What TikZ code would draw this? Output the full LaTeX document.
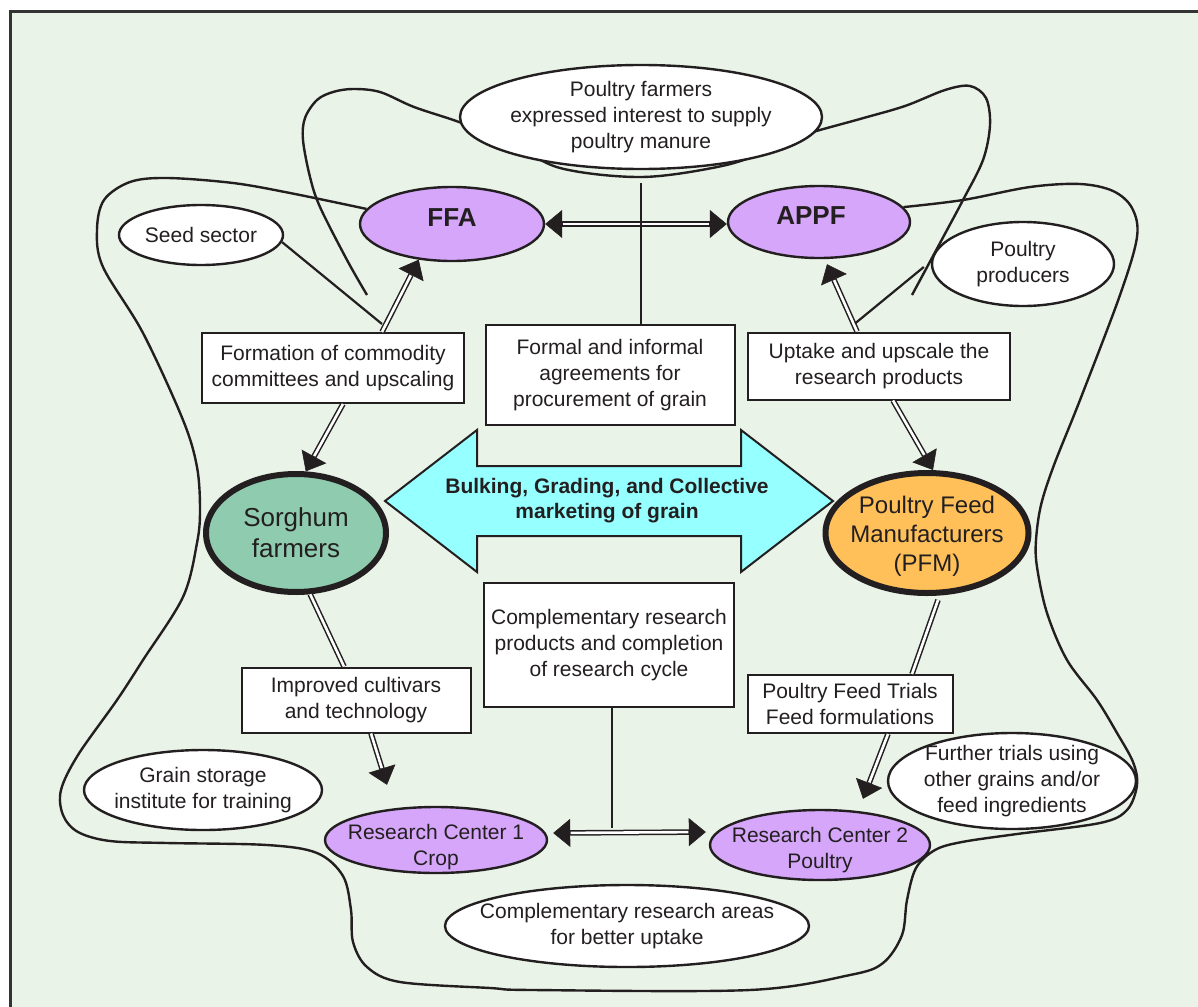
\documentclass[tikz,border=0pt]{standalone}
\usepackage{fontspec}
\setmainfont{Liberation Sans}
\usetikzlibrary{shapes.geometric,arrows.meta,calc}

\definecolor{bgreen}{RGB}{233,243,231}
\definecolor{lav}{RGB}{213,166,250}
\definecolor{sorg}{RGB}{143,203,174}
\definecolor{pfmorange}{RGB}{255,192,90}
\definecolor{aqua}{RGB}{150,255,255}
\definecolor{ink}{RGB}{35,31,32}
\definecolor{framegray}{RGB}{51,51,51}

\pgfdeclarelayer{back}
\pgfdeclarelayer{loops}
\pgfsetlayers{back,loops,main}

\begin{document}
\begin{tikzpicture}[x=1pt,y=-1pt,
  every node/.style={text=ink},
  txt/.style={font=\fontsize{21}{26}\selectfont, align=center, inner sep=0pt},
  boldtxt/.style={font=\fontsize{21}{25}\selectfont\bfseries, align=center, inner sep=0pt},
  oval/.style={ellipse, draw=ink, line width=2.4pt, fill=white, inner sep=0pt},
  purple oval/.style={oval, fill=lav},
  thick oval/.style={ellipse, draw=ink, line width=6pt, inner sep=0pt},
  box/.style={rectangle, draw=ink, line width=2pt, fill=white, inner sep=0pt, txt},
  dbl/.style={draw=ink, line width=5.6pt, postaction={draw=white, line width=2.6pt}},
  dblto/.style={draw=ink, line width=5.6pt, -{Triangle[length=17pt,width=28pt,line width=0.6pt]},
    postaction={draw=white, line width=2.6pt, -, shorten >=17.5pt}},
  dblboth/.style={draw=ink, line width=5.6pt,
    {Triangle[length=17pt,width=28pt,line width=0.6pt]}-{Triangle[length=17pt,width=28pt,line width=0.6pt]},
    postaction={draw=white, line width=2.6pt, -, shorten >=17.5pt, shorten <=17.5pt}},
  thin link/.style={draw=ink, line width=2.2pt},
  lasso/.style={draw=ink, line width=2.4pt, line join=round}
]
\useasboundingbox (0,0) rectangle (1198,1006);

% page and frame
\begin{pgfonlayer}{back}
  \fill[white] (0,0) rectangle (1198,1006);
  \fill[bgreen] (10,12) rectangle (1220,1030);
  \draw[framegray, line width=3pt] (1220,12) -- (10,12) -- (10,1030);
\end{pgfonlayer}

% actors and institutions
\node[oval, minimum width=362pt, minimum height=104pt,
  label={[txt]center:{Poultry farmers\\expressed interest to supply\\poultry manure}}] (pf) at (641,117) {};
\node[purple oval, minimum width=184pt, minimum height=74pt,
  label={[font=\fontsize{26}{30}\selectfont\bfseries, yshift=6pt]center:FFA}] (ffa) at (452,224) {};
\node[purple oval, minimum width=182pt, minimum height=72pt,
  label={[font=\fontsize{26}{30}\selectfont\bfseries, yshift=6pt, xshift=-8pt]center:APPF}] (appf) at (819,222) {};
\node[oval, minimum width=164pt, minimum height=60pt,
  label={[txt]center:Seed sector}] (seed) at (201,235) {};
\node[oval, minimum width=182pt, minimum height=84pt,
  label={[txt]center:{Poultry\\producers}}] (prod) at (1023,264) {};

\node[box, minimum width=262pt, minimum height=70pt] (form) at (333,368)
  {Formation of commodity\\committees and upscaling};
\node[box, minimum width=249pt, minimum height=100pt] (formal) at (610,375)
  {Formal and informal\\agreements for\\procurement of grain};
\node[box, minimum width=262pt, minimum height=67pt] (uptake) at (879,366)
  {Uptake and upscale the\\research products};

\node[thick oval, fill=sorg, minimum width=180pt, minimum height=118pt,
  label={[font=\fontsize{26}{31}\selectfont, align=center]center:{Sorghum\\farmers}}] (sorg) at (296,533) {};
\node[thick oval, fill=pfmorange, minimum width=203pt, minimum height=120pt,
  label={[font=\fontsize{24}{29}\selectfont, align=center, yshift=-3pt]center:{Poultry Feed\\Manufacturers\\(PFM)}}] (pfm) at (927,533) {};

% central double arrow
\filldraw[fill=aqua, draw=ink, line width=2pt, line join=miter]
  (385,501) -- (477,430) -- (477,466) -- (741,466) -- (741,430) -- (833,501)
  -- (741,572) -- (741,536) -- (477,536) -- (477,572) -- cycle;
\node[boldtxt] (bulk) at (607,501) {Bulking, Grading, and Collective\\marketing of grain};

\node[box, minimum width=250pt, minimum height=124pt] (comp) at (609,645)
  {Complementary research\\products and completion\\of research cycle};
\node[box, minimum width=229pt, minimum height=65pt] (impr) at (356,700)
  {Improved cultivars\\and technology};
\node[box, minimum width=205pt, minimum height=58pt] (trials) at (850,704)
  {Poultry Feed Trials\\Feed formulations};

\node[oval, minimum width=238pt, minimum height=80pt,
  label={[txt]center:{Grain storage\\institute for training}}] (grain) at (203,790) {};
\node[oval, minimum width=248pt, minimum height=96pt,
  label={[txt]center:{Further trials using\\other grains and/or\\feed ingredients}}] (further) at (1012,781) {};
\node[purple oval, minimum width=222pt, minimum height=66pt,
  label={[txt, yshift=-7pt]center:{Research Center 1\\Crop}}] (rc1) at (436,840) {};
\node[purple oval, minimum width=220pt, minimum height=70pt,
  label={[txt, yshift=-5pt]center:{Research Center 2\\Poultry}}] (rc2) at (820,845) {};
\node[oval, minimum width=364pt, minimum height=82pt,
  label={[txt]center:{Complementary research areas\\for better uptake}}] (areas) at (627,926) {};

% double-line links
\draw[dblboth] (ffa.east) -- (ffa.east -| appf.west);
\draw[dblto] ([xshift=49pt]form.north) -- (ffa.227);
\draw[dblto] ([xshift=10pt]form.south) -- (sorg.81);
\draw[dbl] (sorg.283) -- ([xshift=-12pt]impr.north);
\draw[dblto] ([xshift=15pt]impr.south) -- ([xshift=-49pt,yshift=21pt]rc1.north);
\draw[dblto] ([xshift=-22pt]uptake.north) -- ([xshift=8pt,yshift=-5pt]appf.south);
\draw[dblto] ([xshift=14pt]uptake.south) -- ([xshift=6pt]pfm.north);
\draw[dbl] ([xshift=11pt,yshift=-4pt]pfm.south) -- ([xshift=62pt]trials.north);
\draw[dblto] ([xshift=38pt]trials.south) -- ([xshift=43pt,yshift=10pt]rc2.north);
\draw[dblboth] ([xshift=5pt,yshift=7pt]rc1.east) -- ([xshift=-3pt,yshift=13pt]rc2.west)
  coordinate[pos=0.38] (rcmid);

% single-line links
\draw[thin link] ([yshift=-13pt]pf.south) -- (formal.north -| pf.south);
\draw[thin link] ([xshift=3pt]comp.south) -- ([xshift=3pt,yshift=5pt]comp.south |- rcmid);
\draw[thin link] (seed.355) -- ([xshift=49pt,yshift=8pt]form.north);
\draw[thin link] ([xshift=-24pt,yshift=8pt]uptake.north) -- ([xshift=-7pt,yshift=-3pt]prod.west);

% linking loops
\begin{pgfonlayer}{loops}
  \draw[lasso] plot[smooth, tension=0.55] coordinates {
    (367,295) (347,260) (320,207) (310,177) (303,140) (305,118) (317,100) (333,92)
    (353,89) (380,92) (414,107) (459,122) (510,142) (560,168) (642,177) (722,166)
    (770,150) (800,136) (860,119) (905,106) (945,90) (970,86) (986,98) (990,125) (983,160)
    (963,200) (940,243) (912,295)};
  \draw[lasso] plot[smooth, tension=0.55] coordinates {
    (ffa.170) (290,193) (233,183) (167,178) (130,182) (104,200) (97,230) (103,267)
    (143,333) (183,420) (197,467) (200,510) (197,543) (183,597) (143,660) (117,700)
    (78,755) (61,790) (63,815) (78,832) (110,841) (167,843) (267,845) (317,853)
    (343,876) (351,910) (353,942) (367,967) (400,982) (490,988) (533,990) (750,990)
    (850,975) (883,963) (902,935) (907,900) (916,868) (935,850) (962,842) (1017,834)
    (1100,823) (1127,810) (1137,785) (1133,762) (1117,733) (1097,700) (1067,660)
    (1047,613) (1037,567) (1036,540) (1041,505) (1054,465) (1080,400) (1120,295)
    (1137,237) (1132,208) (1113,191) (1080,184) (1030,187) (963,200) (appf.10)};
\end{pgfonlayer}
\end{tikzpicture}
\end{document}
